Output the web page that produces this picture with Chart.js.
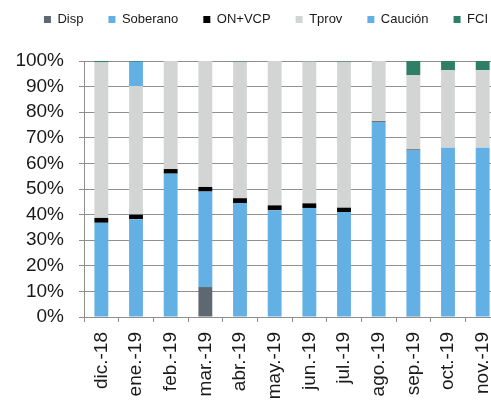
<!DOCTYPE html>
<html>
<head>
<meta charset="utf-8">
<script src="https://cdn.jsdelivr.net/npm/chart.js@4.4.1/dist/chart.umd.min.js"></script>
<style>
  html, body { margin: 0; padding: 0; background: #fff; overflow: hidden; }
  #wrap { width: 491px; height: 401px; overflow: hidden; }
</style>
</head>
<body>
<div id="wrap"><canvas id="chart" width="500" height="401"></canvas></div>
<script>
const labels = ['dic.-18', 'ene.-19', 'feb.-19', 'mar.-19', 'abr.-19', 'may.-19',
                'jun.-19', 'jul.-19', 'ago.-19', 'sep.-19', 'oct.-19', 'nov.-19'];

const disp     = [0, 0, 0, 11.7, 0, 0, 0, 0, 0, 0.3, 0, 0];
const soberano = [36.8, 38.2, 56.0, 37.3, 44.5, 41.7, 42.6, 41.0, 76.2, 64.8, 66.1, 66.1];
const onVcp    = [1.9, 1.8, 1.8, 1.8, 1.9, 1.9, 1.8, 1.7, 0.2, 0.3, 0, 0];
const tprov    = [60.8, 50.2, 42.2, 49.2, 53.3, 56.4, 55.4, 57.0, 23.6, 29.0, 30.3, 30.3];
const caucion  = [0, 9.5, 0, 0, 0, 0, 0, 0, 0, 0, 0, 0];
const fci      = [0.5, 0.3, 0, 0, 0.3, 0, 0.2, 0.3, 0, 5.6, 3.6, 3.6];

const yTicks = [0, 10, 20, 30, 40, 50, 60, 70, 80, 90, 100];

const FONT = '"Liberation Sans", Arial, sans-serif';
const GRID = '#8f8f8f';

function ds(label, data, color) {
    return {
        label: label,
        data: data,
        backgroundColor: color,
        borderWidth: 0,
        barPercentage: 0.4,
        categoryPercentage: 1.0
    };
}

// extra room under the legend, and nudge it to the right like the original
const legendTweak = {
    id: 'legendTweak',
    beforeInit(chart) {
        const fit = chart.legend.fit;
        chart.legend.fit = function() {
            fit.bind(chart.legend)();
            this.height += 25;
        };
    },
    afterLayout(chart) {
        chart.legend.left += 13;
        chart.legend.right += 13;
    }
};

new Chart(document.getElementById('chart'), {
    type: 'bar',
    data: {
        labels: labels,
        datasets: [
            ds('Disp', disp, '#5e6870'),
            ds('Soberano', soberano, '#63b0e4'),
            ds('ON+VCP', onVcp, '#000000'),
            ds('Tprov', tprov, '#d3d4d4'),
            ds('Caución', caucion, '#63b0e4'),
            ds('FCI', fci, '#2f7f67')
        ]
    },
    plugins: [legendTweak],
    options: {
        responsive: false,
        animation: false,
        devicePixelRatio: 1,
        layout: { padding: { top: -12, left: 0, right: 0, bottom: 0 } },
        scales: {
            x: {
                stacked: true,
                afterFit: function(scale) {
                    scale.height = 84;
                    scale.paddingRight = 0;
                    scale.paddingLeft = 0;
                },
                border: { color: GRID, width: 1 },
                grid: {
                    offset: true,
                    drawOnChartArea: false,
                    drawTicks: true,
                    tickLength: 5,
                    color: GRID
                },
                ticks: {
                    autoSkip: false,
                    minRotation: 90,
                    maxRotation: 90,
                    padding: 10,
                    color: '#1a1a1a',
                    font: { family: FONT, size: 19 }
                }
            },
            y: {
                stacked: true,
                min: 0,
                max: 100,
                afterFit: function(scale) { scale.width = 84; },
                afterBuildTicks: function(scale) {
                    scale.ticks = yTicks.map(v => ({ value: v }));
                },
                border: { color: GRID, width: 1 },
                grid: {
                    color: GRID,
                    lineWidth: 1,
                    drawTicks: true,
                    tickLength: 5
                },
                ticks: {
                    autoSkip: false,
                    padding: 15,
                    color: '#1a1a1a',
                    font: { family: FONT, size: 19 },
                    callback: function(v) { return v + '%'; }
                }
            }
        },
        plugins: {
            legend: {
                position: 'top',
                align: 'end',
                labels: {
                    boxWidth: 7,
                    boxHeight: 7,
                    padding: 25,
                    color: '#1a1a1a',
                    font: { family: FONT, size: 13 }
                }
            },
            tooltip: { enabled: false }
        }
    }
});
</script>
</body>
</html>
